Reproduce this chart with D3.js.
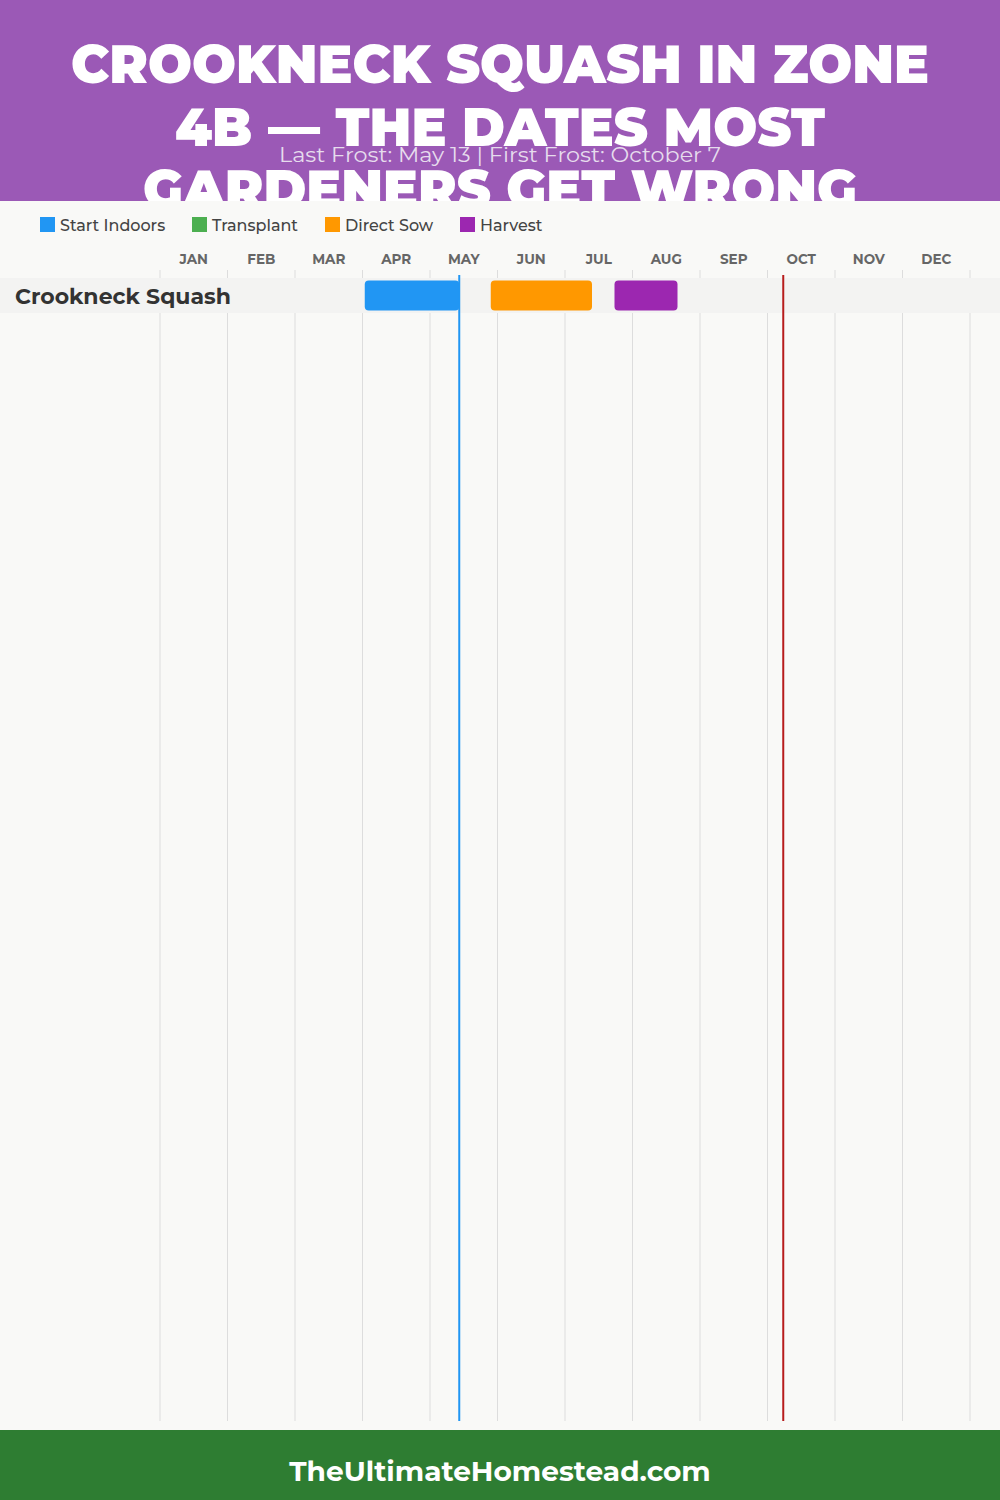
<!DOCTYPE html>
<html>
<head>
<meta charset="utf-8">
<script src="https://cdn.jsdelivr.net/npm/d3@7"></script>
<style>
  html, body { margin: 0; padding: 0; background: #f9f9f7; }
  svg { display: block; font-family: Montserrat, Inter, "Noto Sans", sans-serif; }
</style>
</head>
<body>
<svg id="chart" width="1000" height="1500"></svg>
<script>
// ---- data ----
const titleLines = ["CROOKNECK SQUASH IN ZONE", "4B — THE DATES MOST", "GARDENERS GET WRONG"];
const subtitle = "Last Frost: May 13 | First Frost: October 7";
const footerText = "TheUltimateHomestead.com";
const months = ["JAN","FEB","MAR","APR","MAY","JUN","JUL","AUG","SEP","OCT","NOV","DEC"];
const stages = ["Start Indoors","Transplant","Direct Sow","Harvest"];
const stageColors = ["#2196f3","#4caf50","#ff9800","#9c27b0"];
const crops = ["Crookneck Squash"];
const periodCrop = ["Crookneck Squash","Crookneck Squash","Crookneck Squash"];
const periodStage = ["Start Indoors","Direct Sow","Harvest"];
const periodStart = ["04-01","05-27","07-22"];
const periodEnd = ["05-13","07-12","08-20"];
const frostNames = ["Last Frost","First Frost"];
const frostDates = ["05-13","10-07"];
const frostColors = ["#2196f3","#b71c1c"];

// ---- helpers ----
const toMonths = s => { const [m, d] = s.split("-").map(Number); return (m - 1) + d / 30; };

const svg = d3.select("#chart");
const W = 1000, H = 1500;
const headerH = 201, footerY = 1430;
const x = d3.scaleLinear().domain([0, 12]).range([160, 970]);
const xb = d3.scaleBand().domain(months).range([160, 970]);
const color = d3.scaleOrdinal().domain(stages).range(stageColors);
const rowTop = 278, rowH = 35;
const y = d3.scaleBand().domain(crops).range([rowTop, rowTop + rowH * crops.length]);

// header (title overflow is clipped at the header's bottom edge)
svg.append("defs").append("clipPath").attr("id", "hdrclip")
  .append("rect").attr("x", 0).attr("y", 0).attr("width", W).attr("height", headerH);
svg.append("rect").attr("x", 0).attr("y", 0).attr("width", W).attr("height", headerH).attr("fill", "#9b59b6");
const titleWidths = [858, 650, 714];
svg.append("g").attr("clip-path", "url(#hdrclip)").selectAll("text").data(titleLines).join("text")
  .attr("x", W / 2).attr("y", (d, i) => 83 + i * 62.5)
  .attr("text-anchor", "middle")
  .attr("fill", "#ffffff")
  .attr("font-size", 54).attr("font-weight", 900)
  .attr("textLength", (d, i) => titleWidths[i]).attr("lengthAdjust", "spacingAndGlyphs")
  .text(d => d);

// chart background
svg.append("rect").attr("x", 0).attr("y", headerH).attr("width", W).attr("height", footerY - headerH).attr("fill", "#f9f9f7");

// subtitle
svg.append("text").attr("x", W / 2).attr("y", 162).attr("text-anchor", "middle")
  .attr("fill", "#e6dced").attr("font-size", 21)
  .attr("textLength", 442).attr("lengthAdjust", "spacingAndGlyphs")
  .text(subtitle);

// legend
const legendX = [40, 192, 325, 460];
const lg = svg.append("g").selectAll("g").data(stages).join("g")
  .attr("transform", (d, i) => `translate(${legendX[i]},217)`);
lg.append("rect").attr("width", 15).attr("height", 15).attr("fill", d => color(d));
lg.append("text").attr("x", 20).attr("y", 14).attr("font-size", 16).attr("font-weight", 500).attr("fill", "#444").text(d => d);

// gridlines
svg.append("g").selectAll("line").data(d3.range(13)).join("line")
  .attr("x1", d => x(d)).attr("x2", d => x(d))
  .attr("y1", 270).attr("y2", 1421)
  .attr("stroke", "#dddddd").attr("stroke-width", 1);

// month axis
const axis = svg.append("g").attr("transform", "translate(0,268)")
  .call(d3.axisTop(xb).tickSize(0).tickPadding(4));
axis.select(".domain").remove();
axis.selectAll("text").attr("font-size", 13.5).attr("font-weight", 700).attr("fill", "#666")
  .style("font-family", "Montserrat, Inter, 'Noto Sans', sans-serif");

// row bands
svg.append("g").selectAll("rect").data(crops).join("rect")
  .attr("x", 0).attr("width", W).attr("y", d => y(d)).attr("height", y.bandwidth())
  .attr("fill", "#f3f3f2");
svg.append("g").selectAll("text").data(crops).join("text")
  .attr("x", 15).attr("y", d => y(d) + y.bandwidth() / 2 + 8)
  .attr("font-size", 22).attr("font-weight", 700).attr("fill", "#333").text(d => d);

// bars
const periods = periodStage.map((s, i) => ({ crop: periodCrop[i], stage: s, start: periodStart[i], end: periodEnd[i] }));
svg.append("g").selectAll("rect").data(periods).join("rect")
  .attr("x", d => x(toMonths(d.start)))
  .attr("width", d => x(toMonths(d.end)) - x(toMonths(d.start)))
  .attr("y", d => y(d.crop) + 2.5).attr("height", y.bandwidth() - 5)
  .attr("rx", 4).attr("fill", d => color(d.stage));

// frost lines
svg.append("g").selectAll("line").data(frostDates).join("line")
  .attr("x1", d => x(toMonths(d))).attr("x2", d => x(toMonths(d)))
  .attr("y1", 275).attr("y2", 1421)
  .attr("stroke", (d, i) => frostColors[i]).attr("stroke-width", 2);

// footer
svg.append("rect").attr("x", 0).attr("y", footerY).attr("width", W).attr("height", H - footerY).attr("fill", "#2e7d32");
svg.append("text").attr("x", W / 2).attr("y", 1481).attr("text-anchor", "middle")
  .attr("fill", "#fff").attr("font-size", 28).attr("font-weight", 700)
  .text(footerText);
</script>
</body>
</html>
